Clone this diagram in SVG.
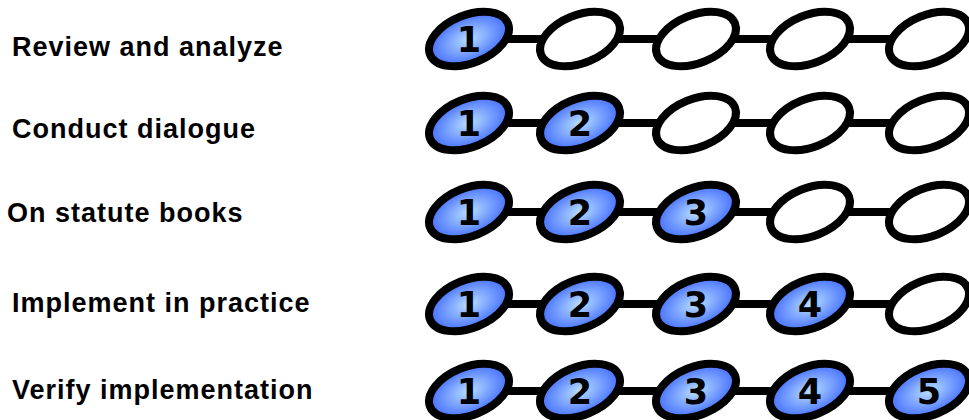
<svg xmlns="http://www.w3.org/2000/svg" width="969" height="420" viewBox="0 0 969 420">
  <defs>
    <radialGradient id="done" cx="50%" cy="50%" r="55%">
      <stop offset="0" stop-color="#b8deff"/>
      <stop offset="1" stop-color="#3762ff"/>
    </radialGradient>
    <ellipse id="ring" cx="0" cy="0" rx="42" ry="24" transform="rotate(-22)"/>
  </defs>
  <style>
    .label { font-family: "Liberation Sans", Arial, sans-serif; font-weight: bold; font-size: 27px; letter-spacing: 1px; fill: #000; }
    .num { font-family: "DejaVu Sans", Verdana, sans-serif; font-weight: bold; font-size: 35px; fill: #000; text-anchor: middle; }
    .link { stroke: #000; stroke-width: 8; }
    .step { stroke: #000; stroke-width: 8; fill: #fff; }
    .step.on { fill: url(#done); }
  </style>

  <!-- row labels -->
  <g id="labels">
    <text class="label" x="12" y="56">Review and analyze</text>
    <text class="label" x="12" y="138">Conduct dialogue</text>
    <text class="label" x="7" y="222">On statute books</text>
    <text class="label" x="12" y="312">Implement in practice</text>
    <text class="label" x="12" y="399">Verify implementation</text>
  </g>

  <!-- connectors between steps -->
  <g id="connectors">
    <line class="link" x1="469" y1="39" x2="929" y2="39"/>
    <line class="link" x1="469" y1="123" x2="929" y2="123"/>
    <line class="link" x1="469" y1="212" x2="929" y2="212"/>
    <line class="link" x1="469" y1="304" x2="929" y2="304"/>
    <line class="link" x1="469" y1="391" x2="929" y2="391"/>
  </g>

  <!-- row 1 -->
  <g id="r1s1"><use href="#ring" class="step on" x="469" y="39"/><text class="num" x="469" y="52">1</text></g>
  <g id="r1s2"><use href="#ring" class="step" x="580" y="39"/></g>
  <g id="r1s3"><use href="#ring" class="step" x="696" y="39"/></g>
  <g id="r1s4"><use href="#ring" class="step" x="810" y="39"/></g>
  <g id="r1s5"><use href="#ring" class="step" x="929" y="39"/></g>

  <!-- row 2 -->
  <g id="r2s1"><use href="#ring" class="step on" x="469" y="123"/><text class="num" x="469" y="136">1</text></g>
  <g id="r2s2"><use href="#ring" class="step on" x="580" y="123"/><text class="num" x="580" y="136">2</text></g>
  <g id="r2s3"><use href="#ring" class="step" x="696" y="123"/></g>
  <g id="r2s4"><use href="#ring" class="step" x="810" y="123"/></g>
  <g id="r2s5"><use href="#ring" class="step" x="929" y="123"/></g>

  <!-- row 3 -->
  <g id="r3s1"><use href="#ring" class="step on" x="469" y="212"/><text class="num" x="469" y="225">1</text></g>
  <g id="r3s2"><use href="#ring" class="step on" x="580" y="212"/><text class="num" x="580" y="225">2</text></g>
  <g id="r3s3"><use href="#ring" class="step on" x="696" y="212"/><text class="num" x="696" y="225">3</text></g>
  <g id="r3s4"><use href="#ring" class="step" x="810" y="212"/></g>
  <g id="r3s5"><use href="#ring" class="step" x="929" y="212"/></g>

  <!-- row 4 -->
  <g id="r4s1"><use href="#ring" class="step on" x="469" y="304"/><text class="num" x="469" y="317">1</text></g>
  <g id="r4s2"><use href="#ring" class="step on" x="580" y="304"/><text class="num" x="580" y="317">2</text></g>
  <g id="r4s3"><use href="#ring" class="step on" x="696" y="304"/><text class="num" x="696" y="317">3</text></g>
  <g id="r4s4"><use href="#ring" class="step on" x="810" y="304"/><text class="num" x="810" y="317">4</text></g>
  <g id="r4s5"><use href="#ring" class="step" x="929" y="304"/></g>

  <!-- row 5 -->
  <g id="r5s1"><use href="#ring" class="step on" x="469" y="391"/><text class="num" x="469" y="404">1</text></g>
  <g id="r5s2"><use href="#ring" class="step on" x="580" y="391"/><text class="num" x="580" y="404">2</text></g>
  <g id="r5s3"><use href="#ring" class="step on" x="696" y="391"/><text class="num" x="696" y="404">3</text></g>
  <g id="r5s4"><use href="#ring" class="step on" x="810" y="391"/><text class="num" x="810" y="404">4</text></g>
  <g id="r5s5"><use href="#ring" class="step on" x="929" y="391"/><text class="num" x="929" y="404">5</text></g>
</svg>
